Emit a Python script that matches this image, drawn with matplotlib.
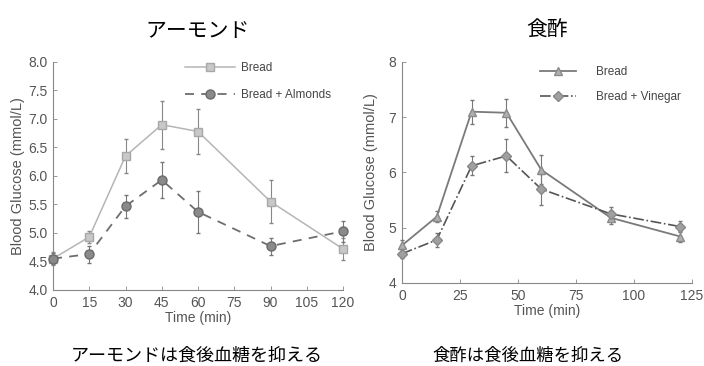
import numpy as np
import matplotlib.pyplot as plt

plt.rcParams['font.family'] = ['Liberation Sans', 'Noto Sans CJK JP', 'DejaVu Sans']

# アーモンド
t_alm = [0, 15, 30, 45, 60, 90, 120]
bread_alm = [4.55, 4.93, 6.35, 6.90, 6.78, 5.55, 4.72]
bread_alm_err = [0.12, 0.10, 0.30, 0.42, 0.40, 0.38, 0.20]
almonds = [4.55, 4.63, 5.47, 5.93, 5.37, 4.77, 5.03]
almonds_err = [0.10, 0.15, 0.20, 0.32, 0.37, 0.15, 0.18]

# 食酢
t_vin = [0, 15, 30, 45, 60, 90, 120]
bread_vin = [4.68, 5.20, 7.10, 7.08, 6.05, 5.18, 4.84]
bread_vin_err = [0.10, 0.10, 0.22, 0.25, 0.26, 0.12, 0.10]
vinegar = [4.53, 4.78, 6.12, 6.30, 5.70, 5.25, 5.02]
vinegar_err = [0.08, 0.12, 0.17, 0.30, 0.28, 0.12, 0.10]

fig = plt.figure(figsize=(7.04, 3.66), dpi=100)
ax1 = fig.add_axes([0.0753, 0.2077, 0.412, 0.623])
ax2 = fig.add_axes([0.571, 0.2268, 0.412, 0.604])

grey_ax = '#555555'


def unclip(cont):
    for art in cont.get_children():
        art.set_clip_on(False)


# 左：アーモンド
c1 = ax1.errorbar(t_alm, bread_alm, yerr=bread_alm_err, color='#b5b5b5', marker='s',
                  markersize=6, mfc='#c8c8c8', mec='#a8a8a8', lw=1.1, ecolor='#888888',
                  elinewidth=0.8, capsize=1.5, label='Bread', zorder=3)
unclip(c1)
c2 = ax1.errorbar(t_alm, almonds, yerr=almonds_err, color='#6e6e6e', marker='o', ls=(0, (5, 4)),
                  markersize=6.5, mfc='#8a8a8a', mec='#6a6a6a', lw=1.3, ecolor='#777777',
                  elinewidth=0.8, capsize=1.5, label='Bread + Almonds', zorder=3)
unclip(c2)
ax1.set_xlim(0, 120)
ax1.set_ylim(4.0, 8.0)
ax1.set_xticks(np.arange(0, 121, 15))
ax1.set_yticks(np.arange(4.0, 8.01, 0.5))
ax1.set_yticklabels([f'{v:.1f}' for v in np.arange(4.0, 8.01, 0.5)])
ax1.set_xlabel('Time (min)', fontsize=10, color=grey_ax, labelpad=1)
ax1.set_ylabel('Blood Glucose (mmol/L)', fontsize=10.5, color=grey_ax, labelpad=2)
ax1.legend([c1[0], c2[0]], ['Bread', 'Bread + Almonds'], loc='upper left', frameon=False,
           fontsize=8.5, bbox_to_anchor=(0.42, 1.045), handlelength=4.2, handletextpad=0.5,
           labelspacing=1.25, labelcolor='#444444')
ax1.set_title('アーモンド', fontsize=15, pad=18)

# 右：食酢
c3 = ax2.errorbar(t_vin, bread_vin, yerr=bread_vin_err, color='#7a7a7a', marker='^',
                  markersize=6, mfc='#b0b0b0', mec='#8a8a8a', lw=1.3, ecolor='#777777',
                  elinewidth=0.8, capsize=1.5, label='Bread', zorder=3)
unclip(c3)
c4 = ax2.errorbar(t_vin, vinegar, yerr=vinegar_err, color='#555555', marker='D', ls='-.',
                  markersize=5, mfc='#a0a0a0', mec='#888888', lw=1.2, ecolor='#777777',
                  elinewidth=0.8, capsize=1.5, label='Bread + Vinegar', zorder=3)
unclip(c4)
ax2.set_xlim(0, 125)
ax2.set_ylim(4, 8)
ax2.set_xticks(np.arange(0, 126, 25))
ax2.set_yticks([4, 5, 6, 7, 8])
ax2.set_xlabel('Time (min)', fontsize=10, color=grey_ax, labelpad=1)
ax2.set_ylabel('Blood Glucose (mmol/L)', fontsize=10.5, color=grey_ax, labelpad=8)
ax2.legend([c3[0], c4[0]], ['Bread', 'Bread + Vinegar'], loc='upper left', frameon=False,
           fontsize=8.5, bbox_to_anchor=(0.44, 1.03), handlelength=3.0, handletextpad=1.7,
           labelspacing=1.15, labelcolor='#444444')
ax2.set_title('食酢', fontsize=15, pad=18)

for ax in (ax1, ax2):
    for s in ('top', 'right'):
        ax.spines[s].set_visible(False)
    for s in ('left', 'bottom'):
        ax.spines[s].set_color('#888888')
        ax.spines[s].set_linewidth(0.8)
    ax.tick_params(direction='in', length=3, width=0.6, color='#888888',
                   labelsize=10, labelcolor='#555555', pad=4)

fig.text(0.28, 0.015, 'アーモンドは食後血糖を抑える', ha='center', fontsize=13)
fig.text(0.75, 0.015, '食酢は食後血糖を抑える', ha='center', fontsize=12.5)

fig.savefig('out.png', dpi=100)
